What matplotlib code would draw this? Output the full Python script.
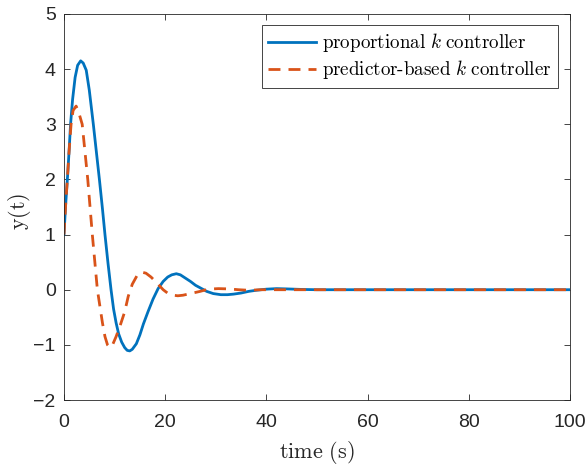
import matplotlib
matplotlib.use("Agg")
import matplotlib.pyplot as plt

# values
t_prop = [0, 0.3, 0.7, 1.0, 1.3, 1.7, 2.2, 2.7, 3.3, 3.8, 4.4, 5.0, 5.8, 6.4, 7.0, 7.6,
          8.1, 8.7, 9.3, 9.8, 10.3, 10.8, 11.4, 12.0, 12.5, 13.0, 13.5, 14.3, 15.0,
          15.7, 16.6, 17.6, 18.6, 19.6, 20.5, 21.3, 22.2, 23.0, 24.0, 25.0, 26.0,
          27.0, 28.2, 29.5, 31.0, 32.3, 33.5, 35.0, 36.5, 38.0, 40.0, 42.0, 44.0,
          47.0, 50, 55, 60, 100]
y_prop = [1.0, 1.5, 2.05, 2.5, 3.0, 3.45, 3.85, 4.07, 4.15, 4.11, 3.98, 3.62, 3.0, 2.5,
          2.0, 1.47, 1.0, 0.48, 0.0, -0.35, -0.6, -0.8, -0.95, -1.05, -1.1, -1.11,
          -1.08, -0.98, -0.82, -0.62, -0.4, -0.17, 0.02, 0.15, 0.23, 0.27, 0.29, 0.27,
          0.21, 0.15, 0.08, 0.03, -0.03, -0.07, -0.09, -0.09, -0.08, -0.06, -0.03,
          -0.01, 0.01, 0.02, 0.015, 0.005, 0, 0, 0, 0]

t_pred = [0, 0.3, 0.7, 1.0, 1.4, 1.8, 2.4, 2.9, 3.6, 4.15, 4.7, 5.15, 5.6, 6.1, 6.6,
          7.1, 7.6, 8.1, 8.6, 9.1, 9.6, 10.3, 11.1, 12.0, 12.7, 13.5, 14.4, 15.3,
          16.2, 17.2, 18.3, 19.6, 20.6, 21.6, 22.5, 23.5, 25.0, 26.9, 28.5, 30.5,
          32.5, 34.5, 36.5, 39, 100]
y_pred = [1.0, 1.5, 2.05, 2.5, 3.0, 3.25, 3.33, 3.22, 3.0, 2.5, 2.0, 1.5, 1.0, 0.5,
          0.0, -0.3, -0.6, -0.85, -1.0, -1.05, -1.0, -0.85, -0.65, -0.4, -0.12, 0.1,
          0.25, 0.32, 0.3, 0.23, 0.13, 0.0, -0.07, -0.1, -0.11, -0.1, -0.07, -0.03,
          0.01, 0.02, 0.015, 0.0, -0.01, 0, 0]

labels = [r"$\mathrm{proportional}\ k\ \mathrm{controller}$",
          r"$\mathrm{predictor\text{-}based}\ k\ \mathrm{controller}$"]

plt.rcParams["mathtext.fontset"] = "cm"
plt.rcParams["font.family"] = ["Liberation Sans", "DejaVu Sans"]

fig = plt.figure(figsize=(5.87, 4.66), dpi=100)
ax = fig.add_axes([0.109, 0.1416, 0.862, 0.8284])

ax.plot(t_prop, y_prop, color="#0072BD", lw=2.0, label=labels[0])
ax.plot(t_pred, y_pred, color="#D95319", lw=2.0, ls=(0, (4.3, 2.9)), label=labels[1])

ax.set_xlim(0, 100)
ax.set_ylim(-2, 5)
ax.set_xticks([0, 20, 40, 60, 80, 100])
ax.set_yticks(range(-2, 6))
ax.tick_params(direction="in", top=True, right=True, labelsize=14, colors="#262626",
               length=4, width=0.6)
ax.tick_params(axis="x", pad=10)
ax.tick_params(axis="y", pad=6)
for s in ax.spines.values():
    s.set_color("#262626")
    s.set_linewidth(0.6)

ax.set_xlabel(r"$\mathrm{time\ (s)}$", fontsize=16, color="#262626", labelpad=6)
ax.set_ylabel(r"$\mathrm{y(t)}$", fontsize=16, color="#262626")
ax.yaxis.set_label_coords(-0.062, 0.49)

leg = ax.legend(loc="upper right", fontsize=13.7, frameon=True, fancybox=False,
                edgecolor="#262626", framealpha=1, handlelength=2.5,
                borderaxespad=0, borderpad=0.35, labelspacing=0.2,
                handletextpad=0.3, bbox_to_anchor=(0.976, 0.972))
leg.get_frame().set_linewidth(0.6)

fig.savefig("out.png", dpi=100)
